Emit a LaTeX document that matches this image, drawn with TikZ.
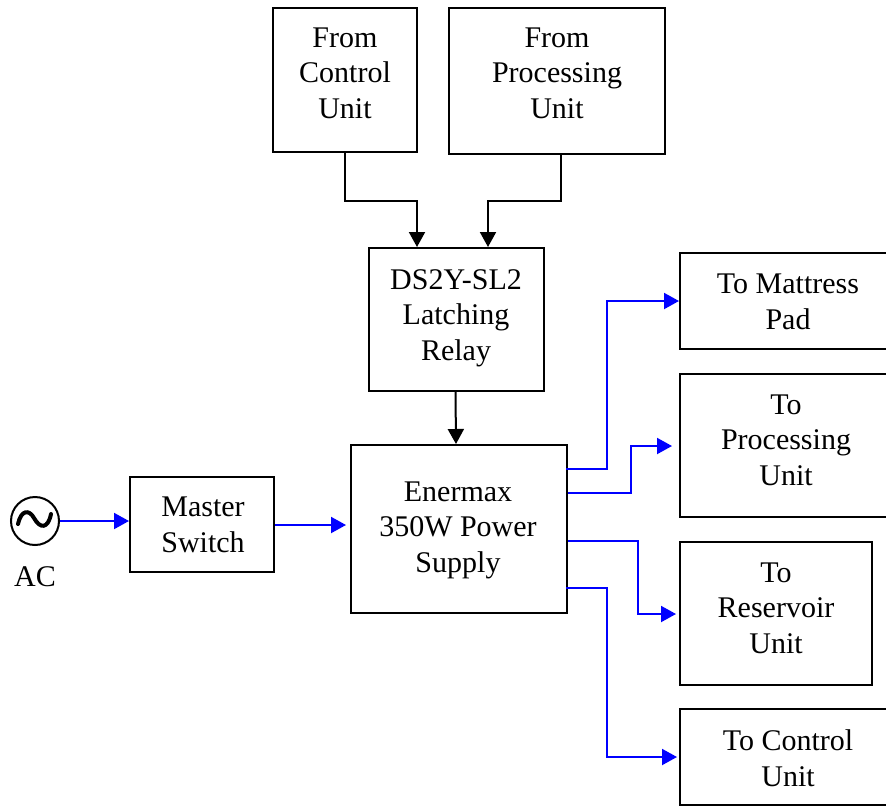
\documentclass[tikz,border=0pt]{standalone}
\usepackage{fontspec}
\setmainfont{Liberation Serif}
\usetikzlibrary{arrows.meta,calc}
\begin{document}
\begin{tikzpicture}[x=1pt,y=-1pt,
  box/.style={draw,line width=2pt,inner sep=0pt},
  lbl/.style={align=center,font=\fontsize{30}{35.5}\selectfont,inner sep=0pt},
  ctl/.style={line width=2pt,-{Triangle[length=15pt,width=16pt]}},
  pwr/.style={ctl,blue}]
\useasboundingbox (0,0) rectangle (886,806);

% blocks
\node[box,minimum width=144pt,minimum height=144pt] (fcu) at (345,80) {};
\node[box,minimum width=216pt,minimum height=146pt] (fpu) at (557,81) {};
\node[box,minimum width=175pt,minimum height=143pt] (relay) at (456.5,319.5) {};
\node[box,minimum width=144pt,minimum height=95pt] (msw) at (202,524.5) {};
\node[box,minimum width=216pt,minimum height=168pt] (psu) at (459,529) {};
\node[box,minimum width=210pt,minimum height=96pt] (tmp) at (785,301) {};
\node[box,minimum width=210pt,minimum height=143pt] (tpu) at (785,445.5) {};
\node[box,minimum width=192pt,minimum height=143pt] (tru) at (776,613.5) {};
\node[box,minimum width=210pt,minimum height=96pt] (tcu) at (785,757) {};

% block texts
\node[lbl] (tfcu) at (345,73) {From\\Control\\Unit};
\node[lbl] (tfpu) at (557,73) {From\\Processing\\Unit};
\node[lbl] (trelay) at (456,318) {DS2Y-SL2\\Latching\\Relay};
\node[lbl] (tmsw) at (203,525) {Master\\Switch};
\node[lbl] (tpsu) at (458,530) {Enermax\\350W Power\\Supply};
\node[lbl] (ttmp) at (788,302) {To Mattress\\Pad};
\node[lbl] (ttpu) at (786,440) {To\\Processing\\Unit};
\node[lbl] (ttru) at (776,608) {To\\Reservoir\\Unit};
\node[lbl] (ttcu) at (788,758) {To Control\\Unit};

% AC source
\node[circle,draw,line width=2pt,minimum size=48pt,inner sep=0pt] (ac) at (35,521) {};
\draw[line width=4pt,line cap=round]
  (18,524) .. controls (21,510) and (29,509) .. (34,518)
           .. controls (40,529) and (48,529) .. (51,514);
\node[lbl] (tac) at (35,577) {AC};

% control signals
\draw[ctl] (fcu.south) -- ++(0,48) -| ($(relay.north)+(-39.5,0)$);
\draw[ctl] ($(fpu.south)+(4,-2)$) -- ++(0,48) -| ($(relay.north)+(31.5,0)$);
\draw[ctl] ($(relay.south)+(-1,0)$) -- ($(psu.north)+(-3,0)$);

% power path
\draw[pwr] (ac.east) -- (ac.east -| msw.west);
\draw[pwr,shorten >=4pt] ($(msw.east)+(0,0.5)$) -- ($(msw.east -| psu.west)+(0,0.5)$);

\coordinate (o1) at ($(psu.east)+(-2,-60)$);
\coordinate (o2) at ($(psu.east)+(0,-36)$);
\coordinate (o3) at ($(psu.east)+(0,12)$);
\coordinate (o4) at ($(psu.east)+(-2,59)$);
\draw[pwr] (o1) -| ($(tmp.west)+(-72,0)$) -- (tmp.west);
\draw[pwr,shorten >=7pt] (o2) -| ($(tpu.west)+(-48,0.5)$) -- ($(tpu.west)+(0,0.5)$);
\draw[pwr,shorten >=3pt] (o3) -| ($(tru.west)+(-41,0.5)$) -- ($(tru.west)+(0,0.5)$);
\draw[pwr,shorten >=2pt] (o4) -| ($(tcu.west)+(-72,0)$) -- (tcu.west);
\end{tikzpicture}
\end{document}
